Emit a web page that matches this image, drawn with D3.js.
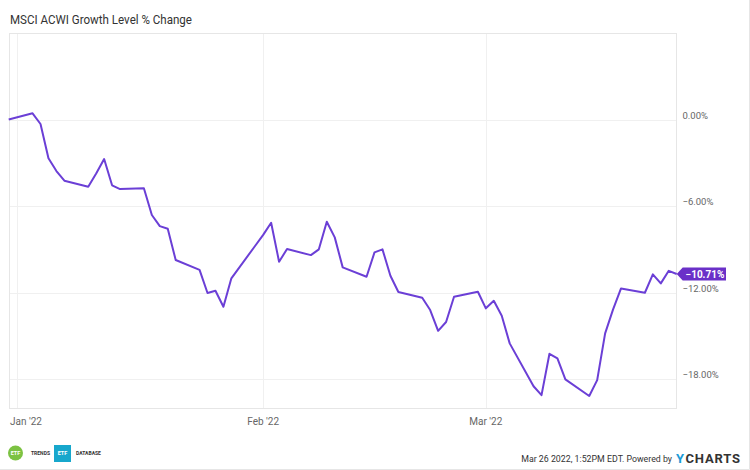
<!DOCTYPE html>
<html>
<head>
<meta charset="utf-8">
<script src="https://cdn.jsdelivr.net/npm/d3@7"></script>
<style>
  body { margin: 0; background: #fff; }
  svg { display: block; font-family: Roboto, "Open Sans", sans-serif; }
</style>
</head>
<body>
<div id="chart"></div>
<script>
// trading days and % change of MSCI ACWI Growth
var dates = [
  "2021-12-31", "2022-01-03", "2022-01-04", "2022-01-05", "2022-01-06", "2022-01-07",
  "2022-01-10", "2022-01-11", "2022-01-12", "2022-01-13", "2022-01-14",
  "2022-01-17", "2022-01-18", "2022-01-19", "2022-01-20", "2022-01-21",
  "2022-01-24", "2022-01-25", "2022-01-26", "2022-01-27", "2022-01-28",
  "2022-01-31", "2022-02-01", "2022-02-02", "2022-02-03", "2022-02-04",
  "2022-02-07", "2022-02-08", "2022-02-09", "2022-02-10", "2022-02-11",
  "2022-02-14", "2022-02-15", "2022-02-16", "2022-02-17", "2022-02-18",
  "2022-02-21", "2022-02-22", "2022-02-23", "2022-02-24", "2022-02-25",
  "2022-02-28", "2022-03-01", "2022-03-02", "2022-03-03", "2022-03-04",
  "2022-03-07", "2022-03-08", "2022-03-09", "2022-03-10", "2022-03-11",
  "2022-03-14", "2022-03-15", "2022-03-16", "2022-03-17", "2022-03-18",
  "2022-03-21", "2022-03-22", "2022-03-23", "2022-03-24", "2022-03-25"
];
var values = [
  0.00, 0.43, -0.31, -2.69, -3.57, -4.24,
  -4.66, -3.74, -2.74, -4.56, -4.82,
  -4.77, -6.62, -7.39, -7.57, -9.74,
  -10.42, -12.03, -11.87, -12.98, -11.01,
  -8.75, -8.00, -7.16, -9.86, -8.98,
  -9.40, -9.00, -7.09, -8.17, -10.25,
  -10.90, -9.21, -9.00, -10.83, -11.96,
  -12.36, -13.21, -14.65, -14.04, -12.29,
  -11.94, -13.09, -12.57, -13.61, -15.52,
  -18.49, -19.11, -16.24, -16.56, -18.02,
  -19.17, -18.07, -14.83, -13.16, -11.71,
  -12.01, -10.73, -11.36, -10.49, -10.71
];
var yTicks = [0, -6, -12, -18];
var xTickDates = ["2022-01-01", "2022-02-01", "2022-03-01"];
var xTickLabels = ["Jan '22", "Feb '22", "Mar '22"];
var title = "MSCI ACWI Growth Level % Change";
var footerText = "Mar 26 2022, 1:52PM EDT. Powered by";

var svgWidth = 750;
var svgHeight = 470;
var plot = { left: 9.5, right: 676.5, top: 33.5, bottom: 408.5 };
var lineColor = "#6b3fd6";

var parse = d3.timeParse("%Y-%m-%d");
var data = dates.map(function(d, i) {
  return { date: parse(d), value: values[i] };
});

var svg = d3.select("#chart")
  .append("svg")
  .attr("width", svgWidth)
  .attr("height", svgHeight);

// outer frame (right and bottom edges)
svg.append("path")
  .attr("d", "M749.5,0V469.5H0")
  .attr("fill", "none")
  .attr("stroke", "#e6e6e6");

// title
svg.append("text")
  .attr("x", 10)
  .attr("y", 23.5)
  .attr("font-size", "13px")
  .attr("fill", "#333")
  .attr("textLength", 182)
  .attr("lengthAdjust", "spacingAndGlyphs")
  .text(title);

// scales
var xScale = d3.scaleTime()
  .domain([parse("2021-12-31"), parse("2022-03-25")])
  .range([8.7, 676.7]);

var yScale = d3.scaleLinear()
  .domain([-20, 6])
  .range([408, 33]);

// gridlines
var grid = svg.append("g");
grid.selectAll(".hgrid")
  .data(yTicks)
  .enter()
  .append("line")
  .attr("x1", plot.left)
  .attr("x2", plot.right)
  .attr("y1", d => Math.round(yScale(d)) + 0.5)
  .attr("y2", d => Math.round(yScale(d)) + 0.5)
  .attr("stroke", "#f0f0f0");

grid.selectAll(".vgrid")
  .data(xTickDates)
  .enter()
  .append("line")
  .attr("x1", d => Math.round(xScale(parse(d))) + 0.5)
  .attr("x2", d => Math.round(xScale(parse(d))) + 0.5)
  .attr("y1", plot.top)
  .attr("y2", plot.bottom)
  .attr("stroke", "#f0f0f0");

// plot frame
svg.append("rect")
  .attr("x", plot.left)
  .attr("y", plot.top)
  .attr("width", plot.right - plot.left)
  .attr("height", plot.bottom - plot.top)
  .attr("fill", "none")
  .attr("stroke", "#e6e6e6");

// y axis labels on the right
svg.selectAll(".ylab")
  .data(yTicks)
  .enter()
  .append("text")
  .attr("x", 682.5)
  .attr("y", d => yScale(d) - 1)
  .attr("font-size", "9.5px")
  .attr("fill", "#666")
  .text(d => d3.format(".2f")(d) + "%");

// x axis labels
svg.selectAll(".xlab")
  .data(xTickDates)
  .enter()
  .append("text")
  .attr("y", 425)
  .attr("font-size", "10px")
  .attr("fill", "#666")
  .text((d, i) => xTickLabels[i])
  .attr("x", function(d) {
    var w = this.getComputedTextLength();
    return Math.max(10, xScale(parse(d)) - w / 2);
  });

// the line
var line = d3.line()
  .x(d => xScale(d.date))
  .y(d => yScale(d.value));

svg.append("path")
  .datum(data)
  .attr("d", line)
  .attr("fill", "none")
  .attr("stroke", lineColor)
  .attr("stroke-width", 2)
  .attr("stroke-linejoin", "round");

// last value flag
var last = data[data.length - 1];
var ly = yScale(last.value);
var lx = xScale(last.date);
svg.append("path")
  .attr("d", `M${lx},${ly} L${lx + 6},${ly - 6.5} H726 V${ly + 6.5} H${lx + 6} Z`)
  .attr("fill", "#6a30c8");
svg.append("text")
  .attr("x", 705)
  .attr("y", ly + 3.7)
  .attr("text-anchor", "middle")
  .attr("font-size", "10px")
  .attr("font-weight", "bold")
  .attr("fill", "#fff")
  .text(d3.format(".2f")(last.value) + "%");

// footer logos
var logos = svg.append("g");
logos.append("circle")
  .attr("cx", 15.5)
  .attr("cy", 453)
  .attr("r", 7.5)
  .attr("fill", "#7cc242");
logos.append("text")
  .attr("x", 15.5).attr("y", 455)
  .attr("text-anchor", "middle")
  .attr("font-size", "5.5px").attr("font-weight", "bold")
  .attr("fill", "#fff")
  .text("ETF");
logos.append("text")
  .attr("x", 31).attr("y", 455)
  .attr("font-size", "5px").attr("font-weight", "bold")
  .attr("fill", "#333")
  .text("TRENDS");
logos.append("rect")
  .attr("x", 54).attr("y", 445)
  .attr("width", 17).attr("height", 17)
  .attr("fill", "#17a7cc");
logos.append("text")
  .attr("x", 62.5).attr("y", 455)
  .attr("text-anchor", "middle")
  .attr("font-size", "5.5px").attr("font-weight", "bold")
  .attr("fill", "#fff")
  .text("ETF");
logos.append("text")
  .attr("x", 76).attr("y", 455)
  .attr("font-size", "5px").attr("font-weight", "bold")
  .attr("fill", "#333")
  .text("DATABASE");

// footer credit
svg.append("text")
  .attr("x", 672)
  .attr("y", 462)
  .attr("text-anchor", "end")
  .attr("font-size", "8.8px")
  .attr("fill", "#333")
  .text(footerText);
var yLetter = svg.append("text")
  .attr("x", 676)
  .attr("y", 463)
  .attr("font-size", "13px")
  .attr("font-weight", "bold")
  .attr("fill", "#1a9ad6")
  .text("Y");
var yw = yLetter.node().getComputedTextLength();
svg.append("text")
  .attr("x", 676 + yw + 1.5)
  .attr("y", 463)
  .attr("font-size", "13px")
  .attr("font-weight", "bold")
  .attr("letter-spacing", "0.8px")
  .attr("fill", "#333")
  .text("CHARTS");
</script>
</body>
</html>
